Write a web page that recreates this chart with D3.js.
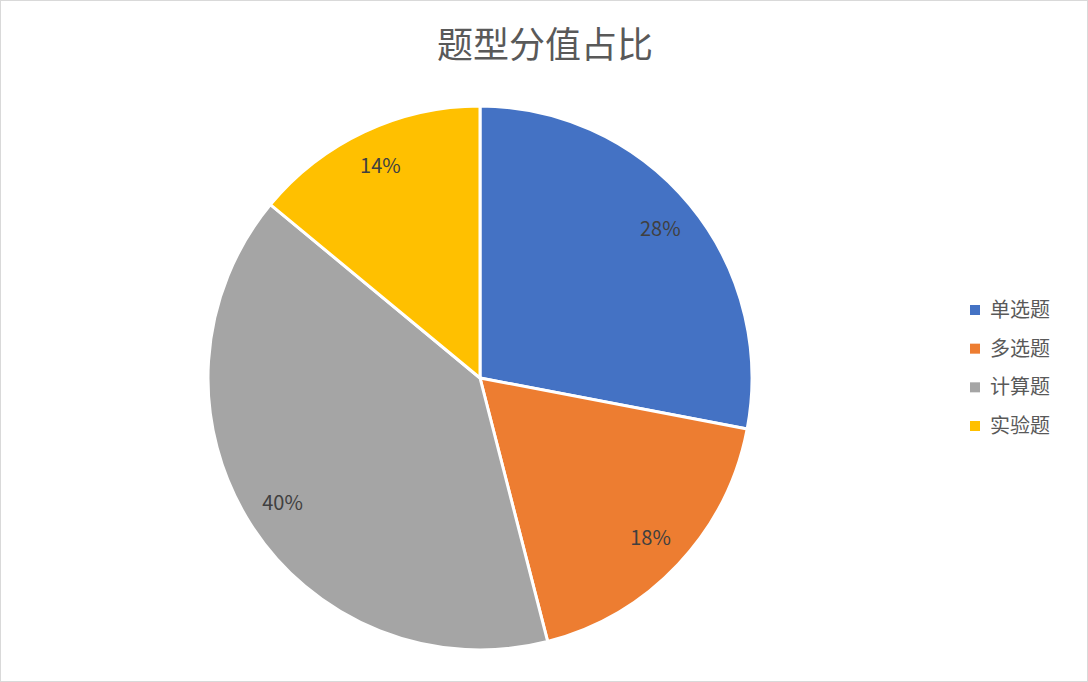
<!DOCTYPE html>
<html><head><meta charset="utf-8">
<script src="https://cdn.jsdelivr.net/npm/d3@7"></script>
<style>body{margin:0;background:#fff}</style></head>
<body><svg id="c" width="1088" height="682"></svg>
<script>
const categories = ["单选题","多选题","计算题","实验题"];
const values = [28,18,40,14];
const colors = ["#4472C4","#ED7D31","#A5A5A5","#FFC000"];
const font = "'Noto Sans CJK SC', sans-serif";
const svg = d3.select("#c");
svg.append("rect").attr("x",0.5).attr("y",0.5).attr("width",1087).attr("height",681)
  .attr("fill","#fff").attr("stroke","#d9d9d9");
svg.append("text").attr("x",545).attr("y",58).attr("text-anchor","middle")
  .attr("font-family",font).attr("font-size",36).attr("fill","#595959").text("题型分值占比");
const cx=480, cy=378, r=272;
const pie = d3.pie().sort(null).value(d=>d)(values);
const arc = d3.arc().innerRadius(0).outerRadius(r);
const g = svg.append("g").attr("transform",`translate(${cx},${cy})`);
g.selectAll("path").data(pie).join("path").attr("d",arc)
  .attr("fill",(d,i)=>colors[i]).attr("stroke","#fff").attr("stroke-width",3);
const la = d3.arc().innerRadius(r*0.86).outerRadius(r*0.86);
g.selectAll("text").data(pie).join("text")
  .attr("transform",d=>`translate(${la.centroid(d)})`)
  .attr("text-anchor","middle").attr("dy","0.35em")
  .attr("font-family",font).attr("font-size",20).attr("fill","#404040")
  .text(d=>d.data+"%");
const ly = d3.scalePoint().domain(categories).range([310,426]);
const lg = svg.append("g");
categories.forEach((c,i)=>{
  lg.append("rect").attr("x",970).attr("y",ly(c)-5).attr("width",10).attr("height",10).attr("fill",colors[i]);
  lg.append("text").attr("x",990).attr("y",ly(c)).attr("dy","0.35em")
    .attr("font-family",font).attr("font-size",20).attr("fill","#595959").text(c);
});
</script></body></html>
